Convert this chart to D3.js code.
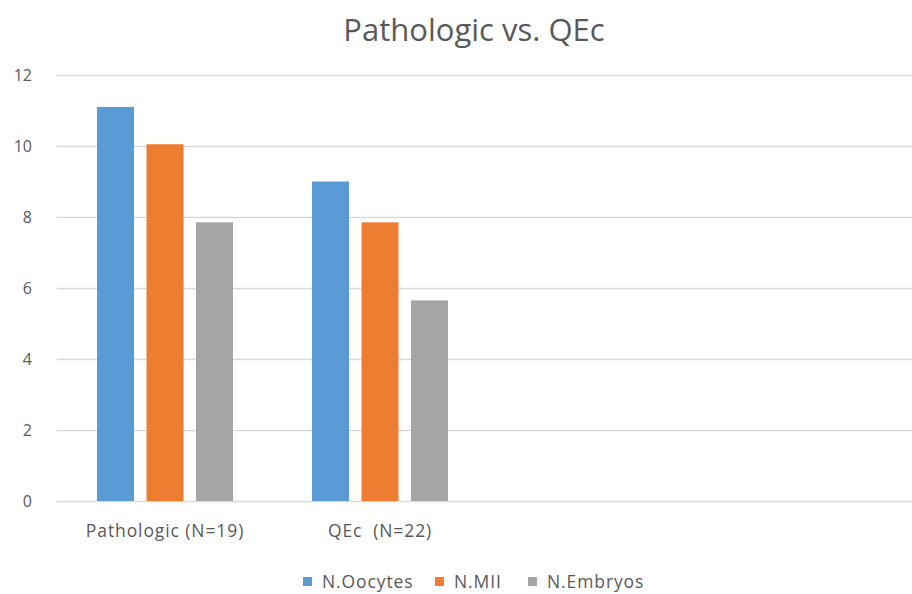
<!DOCTYPE html>
<html><head><meta charset="utf-8">
<script src="https://cdn.jsdelivr.net/npm/d3@7"></script>
<style>body{margin:0;background:#fff}svg{display:block}text{font-family:"Open Sans",sans-serif}</style>
</head><body>
<script>
const categories = ["Pathologic (N=19)", "QEc  (N=22)", "", " "];
const seriesNames = ["N.Oocytes", "N.MII", "N.Embryos"];
const oocytes = [11.1, 9.0, null, null];
const mii = [10.05, 7.85, null, null];
const embryos = [7.85, 5.65, null, null];
const yTicks = [0, 2, 4, 6, 8, 10, 12];
const colors = ["#5B9BD5", "#ED7D31", "#A5A5A5"];
const series = [oocytes, mii, embryos];

const W = 912, H = 594;
const svg = d3.select("body").append("svg").attr("width", W).attr("height", H);
const x = d3.scaleBand().domain(categories).range([57.5, 917.5]).paddingInner(0).paddingOuter(0);
const y = d3.scaleLinear().domain([0, 12]).range([501, 75]);
const xs = d3.scaleBand().domain(seriesNames).range([0, x.bandwidth()]).paddingInner(0.2525).paddingOuter(0.798);

svg.append("g").selectAll("line").data(yTicks).join("line")
  .attr("x1", 57).attr("x2", 912).attr("y1", d => Math.round(y(d)) + 0.5).attr("y2", d => Math.round(y(d)) + 0.5)
  .attr("stroke", "#d9d9d9").attr("stroke-width", 1.5);

const yAxis = d3.axisLeft(y).tickValues(yTicks).tickSize(0).tickPadding(0);
const gy = svg.append("g").attr("transform", "translate(32,0)").call(yAxis);
gy.select(".domain").remove();
gy.selectAll("text").attr("font-size", 16).attr("fill", "#595959").attr("text-anchor", "end");

series.forEach((vals, si) => {
  svg.append("g").selectAll("rect").data(categories.map((c, i) => ({c, v: vals[i]})).filter(d => d.v != null))
    .join("rect")
    .attr("x", d => x(d.c) + xs(seriesNames[si]))
    .attr("width", xs.bandwidth())
    .attr("y", d => y(d.v))
    .attr("height", d => y(0) - y(d.v))
    .attr("fill", colors[si]);
});

const xAxis = d3.axisBottom(x).tickSize(0).tickPadding(0);
const gx = svg.append("g").attr("transform", "translate(0,531)").call(xAxis);
gx.select(".domain").remove();
gx.selectAll("text").attr("font-size", 17.5).attr("fill", "#595959").attr("dy", "0.35em")
  .attr("letter-spacing", 0.9).style("white-space", "pre");

svg.append("text").attr("x", 474).attr("y", 41).attr("text-anchor", "middle")
  .attr("font-size", 31).attr("fill", "#595959")
  .text("Pathologic vs. QEc");

const legX = [303, 435, 528];
const lg = svg.append("g");
seriesNames.forEach((n, i) => {
  lg.append("rect").attr("x", legX[i]).attr("y", 577).attr("width", 9).attr("height", 9).attr("fill", colors[i]);
  lg.append("text").attr("x", legX[i] + 19).attr("y", 582).attr("dy", "0.35em")
    .attr("font-size", 17.5).attr("letter-spacing", 0.9).attr("fill", "#595959").text(n);
});
</script>
</body></html>
